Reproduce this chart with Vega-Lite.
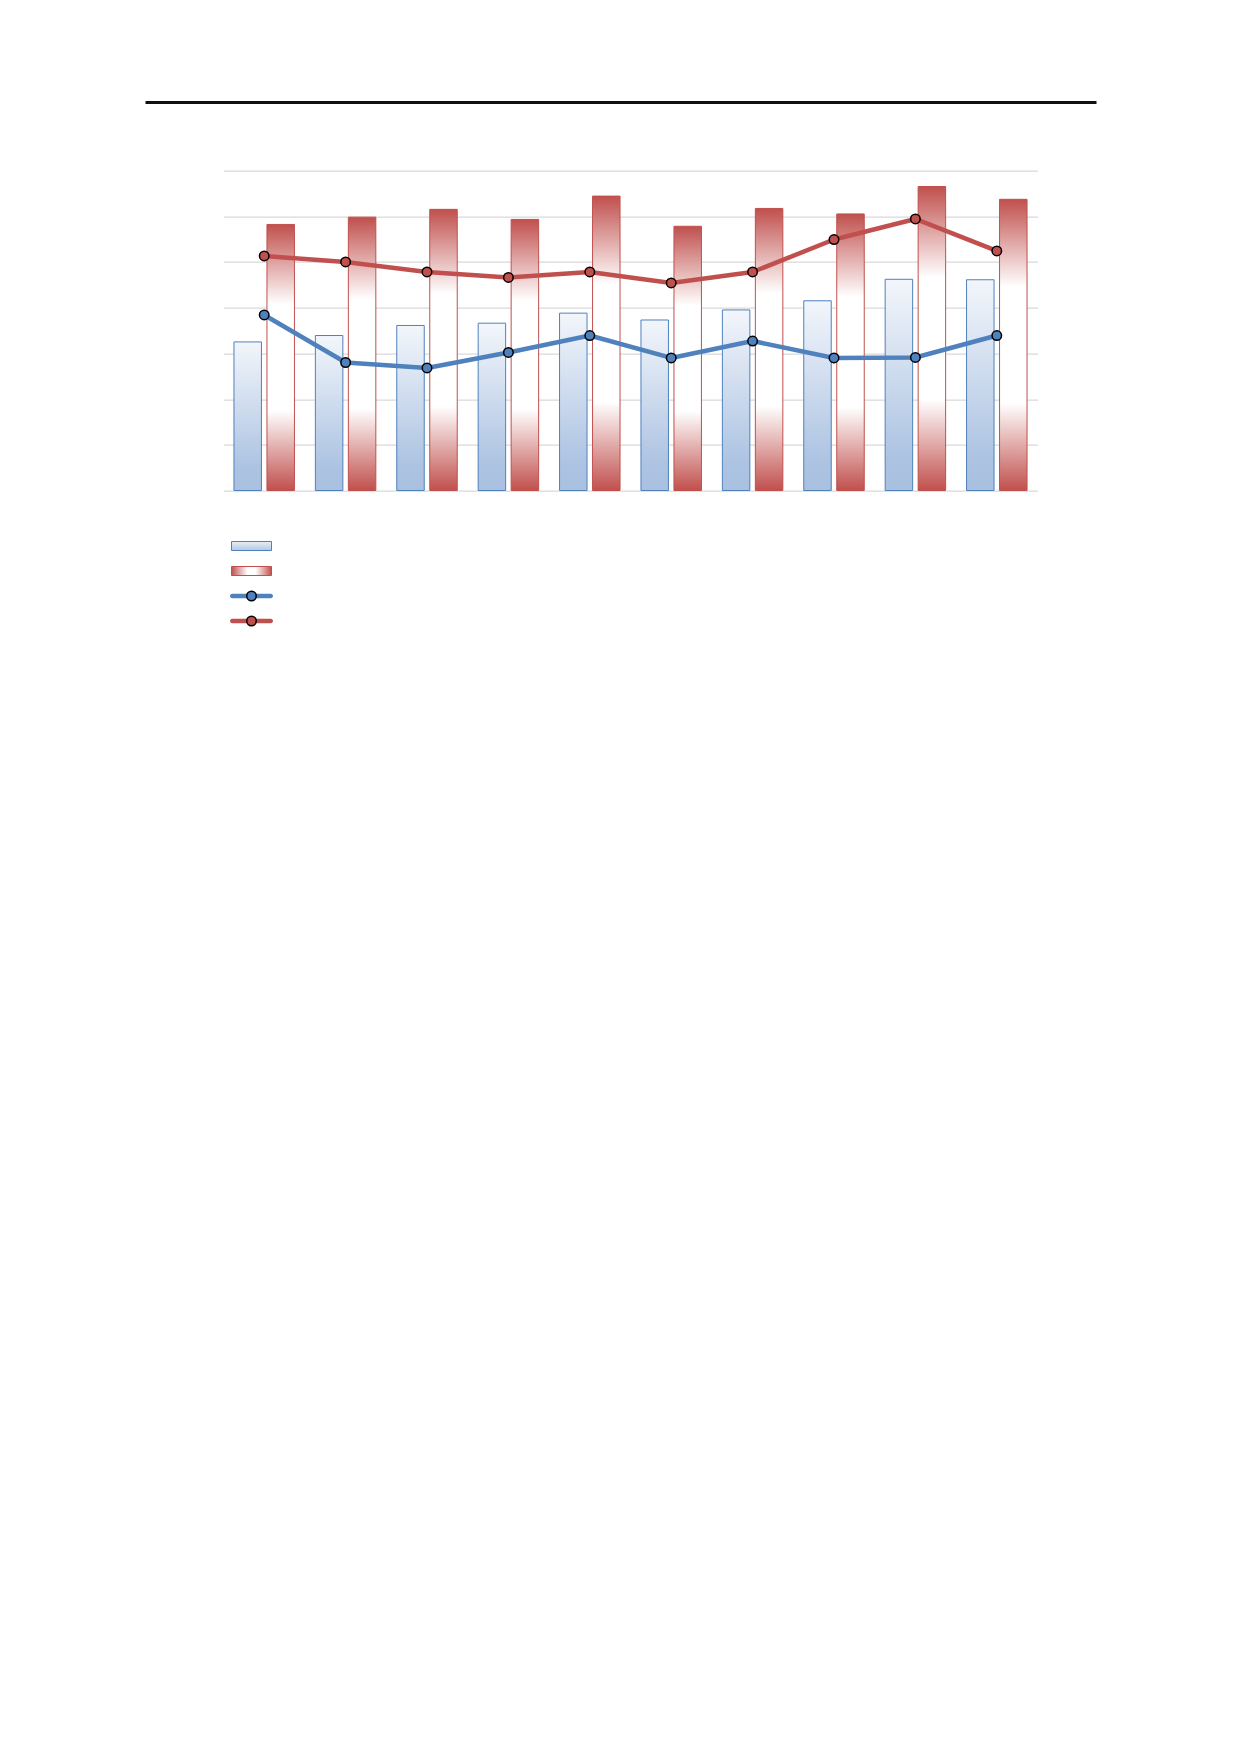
{
  "$schema": "https://vega.github.io/schema/vega-lite/v6.json",
  "background": "white",
  "padding": {"left": 143.5, "top": 100.5, "right": 0, "bottom": 0},
  "spacing": 42,
  "config": {"view": {"stroke": null}},
  "vconcat": [
    {
      "width": 951,
      "height": 26,
      "data": {"values": [{"level": 1}]},
      "mark": {"type": "rule", "color": "#111111", "strokeWidth": 3},
      "encoding": {
        "y": {"field": "level", "type": "quantitative", "scale": {"domain": [0, 1]}, "axis": null}
      }
    },
    {
      "spacing": 0,
      "hconcat": [
        {
          "width": 78,
          "height": 0,
          "data": {"values": []},
          "mark": "point"
        },
        {
          "spacing": 42,
          "vconcat": [
            {
              "width": 814,
              "height": 320,
              "data": {
                "values": [
                  {"category": "1", "blue_bar": 3.25, "red_bar": 5.82, "blue_line": 3.84, "red_line": 5.13},
                  {"category": "2", "blue_bar": 3.39, "red_bar": 5.98, "blue_line": 2.8, "red_line": 5.0},
                  {"category": "3", "blue_bar": 3.61, "red_bar": 6.15, "blue_line": 2.68, "red_line": 4.78},
                  {"category": "4", "blue_bar": 3.66, "red_bar": 5.93, "blue_line": 3.02, "red_line": 4.66},
                  {"category": "5", "blue_bar": 3.88, "red_bar": 6.44, "blue_line": 3.39, "red_line": 4.78},
                  {"category": "6", "blue_bar": 3.73, "red_bar": 5.78, "blue_line": 2.9, "red_line": 4.54},
                  {"category": "7", "blue_bar": 3.95, "red_bar": 6.17, "blue_line": 3.27, "red_line": 4.78},
                  {"category": "8", "blue_bar": 4.15, "red_bar": 6.05, "blue_line": 2.9, "red_line": 5.49},
                  {"category": "9", "blue_bar": 4.62, "red_bar": 6.65, "blue_line": 2.91, "red_line": 5.94},
                  {"category": "10", "blue_bar": 4.61, "red_bar": 6.37, "blue_line": 3.39, "red_line": 5.24}
                ]
              },
              "encoding": {
                "x": {
                  "field": "category",
                  "type": "ordinal",
                  "sort": null,
                  "scale": {"paddingInner": 0.257, "paddingOuter": 0.1285},
                  "axis": null
                }
              },
              "layer": [
                {
                  "mark": {
                    "type": "bar",
                    "fill": {
                      "gradient": "linear",
                      "x1": 0, "y1": 0, "x2": 0, "y2": 1,
                      "stops": [
                        {"offset": 0, "color": "#f3f6fb"},
                        {"offset": 0.85, "color": "#acc3e2"},
                        {"offset": 1, "color": "#a9c0e0"}
                      ]
                    },
                    "stroke": "#4f81bd",
                    "strokeWidth": 1
                  },
                  "encoding": {
                    "xOffset": {
                      "datum": "blue_bar",
                      "scale": {"domain": ["blue_bar", "red_bar"], "paddingInner": 0.167, "paddingOuter": 0}
                    },
                    "y": {
                      "field": "blue_bar",
                      "type": "quantitative",
                      "title": null,
                      "scale": {"domain": [0, 7], "nice": false},
                      "axis": {
                        "grid": true,
                        "gridColor": "#d9d9d9",
                        "gridWidth": 1.25,
                        "labels": false,
                        "ticks": false,
                        "domain": false,
                        "title": null,
                        "values": [0, 1, 2, 3, 4, 5, 6, 7]
                      }
                    }
                  }
                },
                {
                  "mark": {
                    "type": "bar",
                    "fill": {
                      "gradient": "linear",
                      "x1": 0, "y1": 0, "x2": 0, "y2": 1,
                      "stops": [
                        {"offset": 0, "color": "#c0504d"},
                        {"offset": 0.3, "color": "#ffffff"},
                        {"offset": 0.7, "color": "#ffffff"},
                        {"offset": 1, "color": "#c0504d"}
                      ]
                    },
                    "stroke": "#c0504d",
                    "strokeWidth": 1
                  },
                  "encoding": {
                    "xOffset": {"datum": "red_bar"},
                    "y": {"field": "red_bar", "type": "quantitative", "title": null}
                  }
                },
                {
                  "mark": {
                    "type": "line",
                    "color": "#4f81bd",
                    "strokeWidth": 4.5,
                    "strokeJoin": "round",
                    "point": {"filled": true, "fill": "#4f81bd", "stroke": "#000000", "strokeWidth": 1.5, "size": 90, "opacity": 1}
                  },
                  "encoding": {
                    "y": {"field": "blue_line", "type": "quantitative", "title": null}
                  }
                },
                {
                  "mark": {
                    "type": "line",
                    "color": "#c0504d",
                    "strokeWidth": 4.5,
                    "strokeJoin": "round",
                    "point": {"filled": true, "fill": "#c0504d", "stroke": "#000000", "strokeWidth": 1.5, "size": 90, "opacity": 1}
                  },
                  "encoding": {
                    "y": {"field": "red_line", "type": "quantitative", "title": null}
                  }
                }
              ]
            },
            {
              "width": 56,
              "height": 100,
              "data": {
                "values": [
                  {"series": "blue_bar"},
                  {"series": "red_bar"},
                  {"series": "blue_line"},
                  {"series": "red_line"}
                ]
              },
              "encoding": {
                "x": {
                  "datum": "swatch",
                  "type": "nominal",
                  "scale": {"paddingInner": 0, "paddingOuter": 0.2},
                  "axis": null
                },
                "y": {
                  "field": "series",
                  "type": "nominal",
                  "sort": null,
                  "scale": {
                    "domain": ["blue_bar", "red_bar", "blue_line", "red_line"],
                    "paddingInner": 0,
                    "paddingOuter": 0
                  },
                  "axis": null
                }
              },
              "layer": [
                {
                  "transform": [{"filter": "datum.series === 'blue_bar'"}],
                  "mark": {
                    "type": "bar",
                    "height": 9,
                    "fill": {
                      "gradient": "linear",
                      "x1": 0, "y1": 0, "x2": 0, "y2": 1,
                      "stops": [
                        {"offset": 0, "color": "#e8eef7"},
                        {"offset": 1, "color": "#b3c7e4"}
                      ]
                    },
                    "stroke": "#4f81bd",
                    "strokeWidth": 1
                  }
                },
                {
                  "transform": [{"filter": "datum.series === 'red_bar'"}],
                  "mark": {
                    "type": "bar",
                    "height": 9,
                    "fill": {
                      "gradient": "linear",
                      "x1": 0, "y1": 0, "x2": 1, "y2": 0,
                      "stops": [
                        {"offset": 0, "color": "#c0504d"},
                        {"offset": 0.4, "color": "#ffffff"},
                        {"offset": 0.6, "color": "#ffffff"},
                        {"offset": 1, "color": "#c0504d"}
                      ]
                    },
                    "stroke": "#c0504d",
                    "strokeWidth": 1
                  }
                },
                {
                  "transform": [{"filter": "datum.series === 'blue_line' || datum.series === 'red_line'"}],
                  "mark": {"type": "bar", "width": 43, "height": 4.5, "cornerRadius": 2.25},
                  "encoding": {
                    "color": {
                      "field": "series",
                      "type": "nominal",
                      "scale": {"domain": ["blue_line", "red_line"], "range": ["#4f81bd", "#c0504d"]},
                      "legend": null
                    }
                  }
                },
                {
                  "transform": [{"filter": "datum.series === 'blue_line' || datum.series === 'red_line'"}],
                  "mark": {"type": "point", "filled": true, "size": 90, "stroke": "#000000", "strokeWidth": 1.5, "opacity": 1},
                  "encoding": {
                    "color": {
                      "field": "series",
                      "type": "nominal",
                      "scale": {"domain": ["blue_line", "red_line"], "range": ["#4f81bd", "#c0504d"]},
                      "legend": null
                    }
                  }
                }
              ]
            }
          ]
        }
      ]
    }
  ]
}
